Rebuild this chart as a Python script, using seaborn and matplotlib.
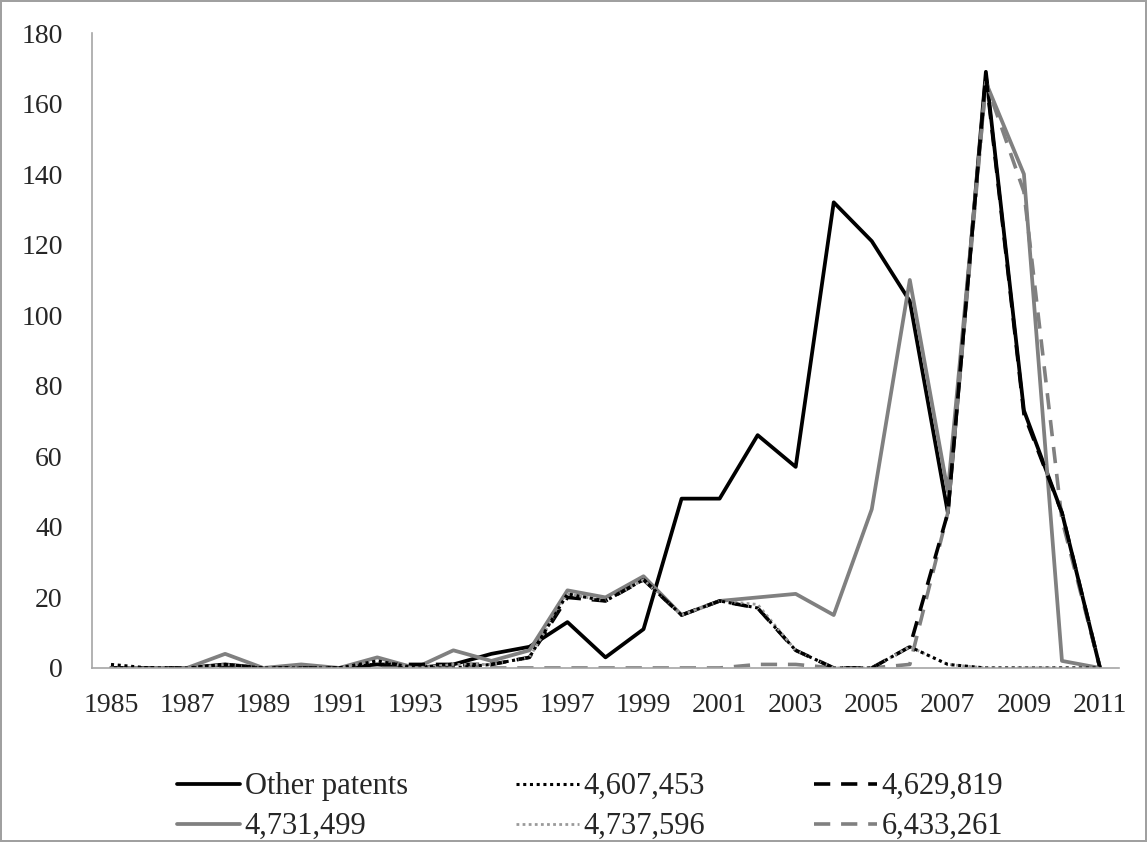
import matplotlib
matplotlib.use("Agg")
import matplotlib.pyplot as plt
import pandas as pd
import seaborn as sns

years = list(range(1985, 2012))

other_patents = [0, 0, 0, 1, 0, 0, 0, 1, 0, 1, 4, 6, 13, 3, 11, 48, 48, 66, 57,
                 132, 121, 104, 44, 169, 73, 44, 0]
p4607453 = [1, 0, 0, 1, 0, 0, 0, 2, 0, 0, 1, 3, 21, 19, 25, 15, 19, 17, 5,
            0, 0, 6, 1, 0, 0, 0, 0]
p4629819 = [0, 0, 0, 0, 0, 0, 0, 1, 1, 1, 1, 3, 20, 19, 25, 15, 19, 17, 5,
            0, 0, 6, 44, 168, 72, 44, 0]
p4731499 = [0, 0, 0, 4, 0, 1, 0, 3, 0, 5, 2, 5, 22, 20, 26, 15, 19, 20, 21,
            15, 45, 110, 50, 166, 140, 2, 0]
p4737596 = [0, 0, 0, 1, 0, 0, 0, 2, 0, 1, 1, 3, 21, 19, 25, 15, 19, 18, 5,
            0, 0, 6, 1, 0, 0, 0, 0]
p6433261 = [0, 0, 0, 0, 0, 0, 0, 0, 0, 0, 0, 0, 0, 0, 0, 0, 0, 1, 1,
            0, 0, 1, 44, 166, 135, 42, 0]

series = {
    "Other patents": other_patents,
    "4,607,453": p4607453,
    "4,629,819": p4629819,
    "4,731,499": p4731499,
    "4,737,596": p4737596,
    "6,433,261": p6433261,
}

styles = {
    "Other patents": dict(color="black", linestyle="-", linewidth=2.7),
    "4,607,453": dict(color="black", linestyle=(0, (1, 1.2)), linewidth=2.2),
    "4,629,819": dict(color="black", linestyle=(0, (4.5, 3)), linewidth=2.6),
    "4,731,499": dict(color="#808080", linestyle="-", linewidth=2.7),
    "4,737,596": dict(color="#9a9a9a", linestyle=(0, (1, 1.2)), linewidth=2.0),
    "6,433,261": dict(color="#808080", linestyle=(0, (4.5, 3)), linewidth=2.6),
}

sns.set_style("white")
plt.rcParams["font.family"] = ["Liberation Serif", "DejaVu Serif"]

fig = plt.figure(figsize=(11.47, 8.42), dpi=100, edgecolor="#a0a0a0", linewidth=1.5)
ax = fig.add_axes([0.0802, 0.2067, 0.8954, 0.7541])

# draw back to front so solid lines sit under the patent lines
draw_order = ["Other patents", "4,731,499", "6,433,261", "4,629,819", "4,737,596", "4,607,453"]
handles = {}
for name in draw_order:
    df = pd.DataFrame({"year": years, "count": series[name]})
    sns.lineplot(data=df, x="year", y="count", ax=ax, label=name, **styles[name])
    handles[name] = ax.get_lines()[-1]

ax.set_xlim(1984.5, 2011.5)
ax.set_ylim(0, 180)
ax.set_xticks(range(1985, 2012, 2))
ax.set_yticks(range(0, 181, 20))
ax.set_xlabel("")
ax.set_ylabel("")
ax.tick_params(axis="both", length=0, labelsize=20)
ax.tick_params(axis="x", pad=18)
ax.tick_params(axis="y", pad=21)
for side in ["top", "right"]:
    ax.spines[side].set_visible(False)
for side in ["left", "bottom"]:
    ax.spines[side].set_color("#a6a6a6")
    ax.spines[side].set_linewidth(1.2)

# legend fills column-wise, so this order gives the row layout
leg_order = ["Other patents", "4,731,499", "4,607,453", "4,737,596", "4,629,819", "6,433,261"]
ax.legend([handles[n] for n in leg_order], leg_order, ncol=3, frameon=False,
          loc="upper left", bbox_to_anchor=(165 / 1147, 1 - 760 / 842),
          bbox_transform=fig.transFigure, borderaxespad=0, fontsize=22,
          handlelength=2.06, handletextpad=0.15, columnspacing=3.55, labelspacing=0.36)

fig.savefig("out.png", dpi=100)
